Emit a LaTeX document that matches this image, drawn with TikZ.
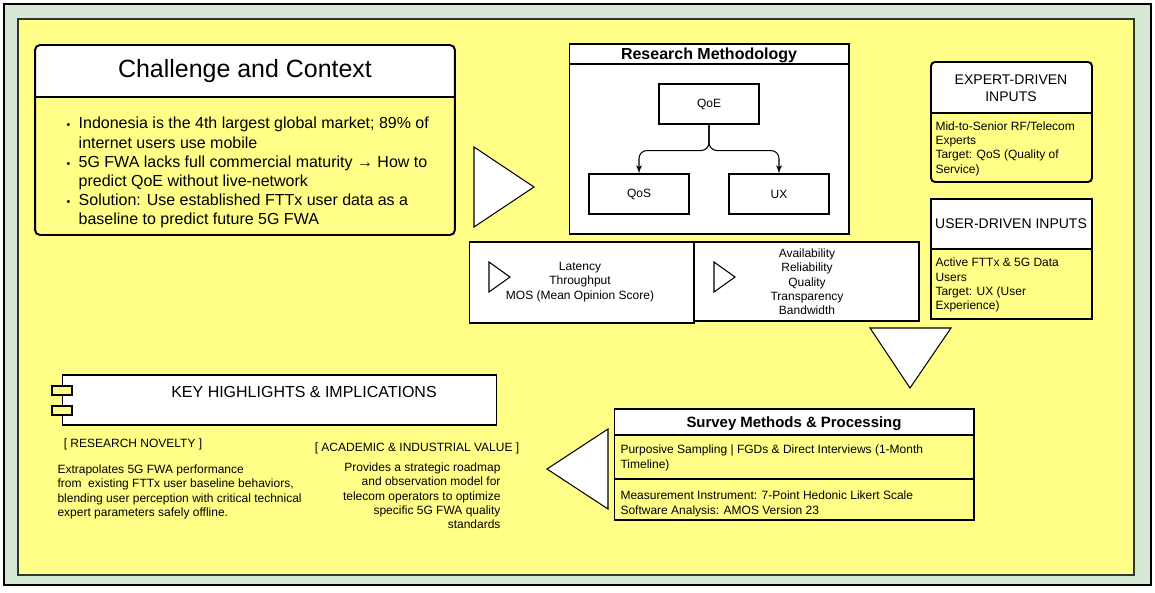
\documentclass[tikz,border=0pt]{standalone}
\usepackage{fontspec}
\setmainfont{Liberation Sans}
\usetikzlibrary{arrows}
\usetikzlibrary{positioning}
\definecolor{bggreen}{HTML}{D5E8D4}
\definecolor{padyellow}{HTML}{FFFF88}
\begin{document}
\begin{tikzpicture}[x=0.02cm,y=-0.02cm,>=latex',line width=0.6pt,
    fA/.style={font=\fontsize{6.83}{8.2}\selectfont},
    fB/.style={font=\fontsize{6.83}{8.15}\selectfont},
    fC/.style={font=\fontsize{7.97}{9.7}\selectfont},
    fCb/.style={font=\fontsize{8.5}{10}\selectfont\bfseries},
    fCc/.style={font=\fontsize{9.1}{10.9}\selectfont\bfseries},
    fD/.style={font=\fontsize{9.1}{10.9}\selectfont},
    fE/.style={font=\fontsize{14.2}{17}\selectfont},
    tri/.style={draw,fill=white},
    heavy/.style={line width=1.1pt},
    headfill/.style={path picture={\fill[white] (path picture bounding box.north west) rectangle ([yshift=-#1]path picture bounding box.north east);}},
    metric/.style={draw,fill=white,minimum width=2cm,minimum height=0.8cm,inner sep=0pt,fB},
    para/.style={align=left,anchor=north west,inner sep=0pt}]
      \useasboundingbox (0,0) rectangle (1155,592);
      \draw[fill=bggreen] (4,4) rectangle (1151,585);
      \draw[fill=padyellow,draw=black!80,line width=0.8pt] (18,19) rectangle (1134,575);

      \node (chal) [draw,heavy,rounded corners=0.1cm,minimum width=8.4cm,minimum height=3.8cm,inner sep=0pt,headfill=1.04cm] at (245,140) {};
      \draw[heavy] (chal.west |- 0,97) -- (chal.east |- 0,97);
      \node (chaltitle) [fE] at (245,71) {Challenge and Context};
      \node (chalbody) [fD,anchor=west,inner sep=0pt] at (66,173) {\begin{tabular}{@{}l@{\hspace{0.17cm}}l@{}}
        {\fontsize{6}{6}\selectfont\textbullet} & Indonesia is the 4th largest global market; 89\% of\\
         & internet users use mobile\\
        {\fontsize{6}{6}\selectfont\textbullet} & 5G FWA lacks full commercial maturity → How to\\
         & predict QoE without live-network\\
        {\fontsize{6}{6}\selectfont\textbullet} & Solution: Use established FTTx user data as a\\
         & baseline to predict future 5G FWA
      \end{tabular}};

      \draw[tri] (474,147) -- (534,187) -- (474,227) -- cycle;

      \node (meth) [draw,fill=white,minimum width=5.6cm,minimum height=3.8cm,inner sep=0pt] at (709,139) {};
      \draw (meth.west |- 0,64) -- (meth.east |- 0,64);
      \node (methtitle) [fCc] at (709,55.5) {Research Methodology};
      \node (qoe) [metric] at (709,104) {QoE};
      \node (qos) [metric] at (639,194) {QoS};
      \node (ux) [metric] at (779,194) {UX};
      \draw[->,rounded corners=0.16cm] (qoe.south) -- ++(0,26) -| (qos.north);
      \draw[->,rounded corners=0.16cm] (qoe.south) -- ++(0,26) -| (ux.north);

      \node (qosparams) [draw,fill=white,minimum width=4.5cm,minimum height=1.62cm,inner sep=0pt] at (581.5,282.5) {};
      \node (uxparams) [draw,fill=white,minimum width=4.5cm,minimum height=1.58cm,inner sep=0pt] at (806.5,281.5) {};
      \draw[tri] (489,262) -- (510,277) -- (489,292) -- cycle;
      \draw[tri] (714,262) -- (735,277) -- (714,292) -- cycle;
      \node (qostext) [fB,align=center] at (580,282) {Latency\\Throughput\\MOS (Mean Opinion Score)};
      \node (uxtext) [fB,align=center] at (807,282) {Availability\\Reliability\\Quality\\Transparency\\Bandwidth};

      \node (expert) [draw,heavy,rounded corners=0.08cm,minimum width=3.22cm,minimum height=2.4cm,inner sep=0pt,headfill=1.02cm] at (1011.5,122) {};
      \draw[heavy] (expert.west |- 0,113) -- (expert.east |- 0,113);
      \node (experthead) [fC,align=center] at (1011,88) {EXPERT-DRIVEN\\INPUTS};
      \node (expertbody) [fB,para] at (935,121) {Mid-to-Senior RF/Telecom\\Experts\\Target: QoS (Quality of\\Service)};

      \node (user) [draw,heavy,minimum width=3.22cm,minimum height=2.4cm,inner sep=0pt,headfill=1.0cm] at (1011.5,259) {};
      \draw[heavy] (user.west |- 0,249) -- (user.east |- 0,249);
      \node (userhead) [fC] at (1011,224) {USER-DRIVEN INPUTS};
      \node (userbody) [fB,para] at (935,257.5) {Active FTTx \& 5G Data\\Users\\Target: UX (User\\Experience)};

      \draw[tri] (870,328) -- (951,328) -- (910,388) -- cycle;

      \node (survey) [draw,minimum width=7.2cm,minimum height=2.22cm,inner sep=0pt,headfill=0.52cm] at (794,464.5) {};
      \draw (survey.west |- 0,435) -- (survey.east |- 0,435);
      \draw (survey.west |- 0,479) -- (survey.east |- 0,479);
      \node (surveytitle) [fCb] at (794,424) {Survey Methods \& Processing};
      \node (sampling) [fB,para] at (620,444.5) {Purposive Sampling | FGDs \& Direct Interviews (1-Month\\Timeline)};
      \node (instrument) [fB,para] at (620,490.5) {Measurement Instrument: 7-Point Hedonic Likert Scale\\Software Analysis: AMOS Version 23};

      \draw[tri] (608,429) -- (547,469) -- (608,509) -- cycle;

      \node (key) [draw,fill=white,minimum width=8.7cm,minimum height=1cm,inner sep=0pt] at (279.5,400) {};
      \node (keyplugA) [draw,fill=padyellow,minimum width=0.4cm,minimum height=0.18cm,inner sep=0pt] at (62,390.5) {};
      \node (keyplugB) [draw,fill=padyellow,minimum width=0.4cm,minimum height=0.18cm,inner sep=0pt] at (62,410.5) {};
      \node (keytitle) [fD] at (304,392) {KEY HIGHLIGHTS \& IMPLICATIONS};

      \node (novelty) [fB] at (133,444) {[ RESEARCH NOVELTY ]};
      \node (noveltytext) [fA,para] at (57,464) {Extrapolates 5G FWA performance\\from\ \ existing FTTx user baseline behaviors,\\blending user perception with critical technical\\expert parameters safely offline.};
      \node (value) [fB] at (417,448) {[ ACADEMIC \& INDUSTRIAL VALUE ]};
      \node (valuetext) [fA,align=right,anchor=north east,inner sep=0pt] at (501,462) {Provides a strategic roadmap\\and observation model for\\telecom operators to optimize\\specific 5G FWA quality\\standards};
    \end{tikzpicture}
\end{document}
